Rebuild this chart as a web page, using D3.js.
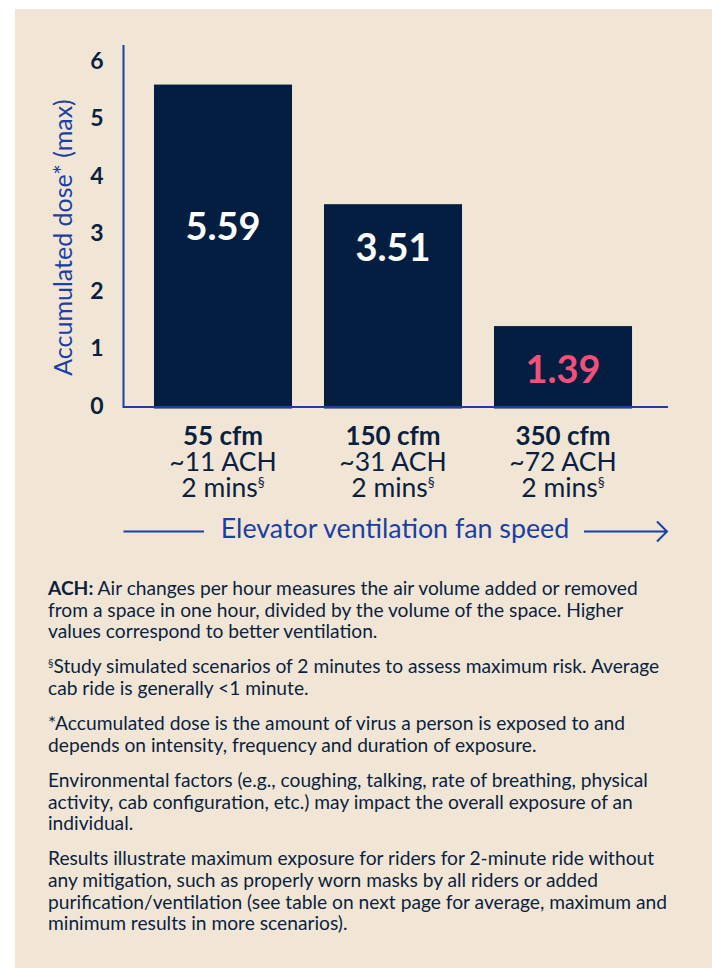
<!DOCTYPE html>
<html>
<head>
<meta charset="utf-8">
<script src="https://cdn.jsdelivr.net/npm/d3@7"></script>
<style>
  body { margin: 0; background: #fff; }
  svg { display: block; font-family: Lato, "Noto Sans", sans-serif; }
</style>
</head>
<body>
<svg id="chart" width="712" height="968"></svg>
<script>
// chart values
const categories = ["55 cfm", "150 cfm", "350 cfm"];
const achLabels = ["~11 ACH", "~31 ACH", "~72 ACH"];
const durationLabels = ["2 mins", "2 mins", "2 mins"];
const doseValues = [5.59, 3.51, 1.39];
const yTicks = [0, 1, 2, 3, 4, 5, 6];

// footnote paragraphs (lines as laid out in the source)
const notes = [
  [["ACH:", "Air changes per hour measures the air volume added or removed"],
   "from a space in one hour, divided by the volume of the space. Higher",
   "values correspond to better ventilation."],
  [["§", "Study simulated scenarios of 2 minutes to assess maximum risk. Average"],
   "cab ride is generally <1 minute."],
  ["*Accumulated dose is the amount of virus a person is exposed to and",
   "depends on intensity, frequency and duration of exposure."],
  ["Environmental factors (e.g., coughing, talking, rate of breathing, physical",
   "activity, cab configuration, etc.) may impact the overall exposure of an",
   "individual."],
  ["Results illustrate maximum exposure for riders for 2-minute ride without",
   "any mitigation, such as properly worn masks by all riders or added",
   "purification/ventilation (see table on next page for average, maximum and",
   "minimum results in more scenarios)."]
];

const navy = "#041e42";
const ink = "#0b1f40";
const blue = "#1c3fa3";
const pink = "#f0507a";

const svg = d3.select("#chart");

// background panel
svg.append("rect")
  .attr("x", 15).attr("y", 9)
  .attr("width", 712 - 15).attr("height", 968 - 9)
  .attr("fill", "#f1e6d6");

const plot = { left: 123.5, right: 668, top: 45, bottom: 407 };

const y = d3.scaleLinear().domain([0, 6]).range([406, 61]);
const x = d3.scaleBand()
  .domain(categories)
  .range([121, 665])
  .paddingInner(0.188)
  .paddingOuter(0.194);

// bars
svg.append("g")
  .selectAll("rect")
  .data(doseValues)
  .join("rect")
  .attr("x", (d, i) => x(categories[i]))
  .attr("y", d => y(d))
  .attr("width", x.bandwidth())
  .attr("height", d => plot.bottom + 1.5 - y(d))
  .attr("fill", navy);

// axis lines
svg.append("path")
  .attr("d", `M${plot.left},${plot.top}V${plot.bottom}H${plot.right}`)
  .attr("fill", "none")
  .attr("stroke", blue)
  .attr("stroke-width", 2);

// y ticks
const yAxis = svg.append("g")
  .attr("transform", `translate(${plot.left},0)`)
  .call(d3.axisLeft(y).tickValues(yTicks).tickSize(0).tickPadding(20).tickFormat(d3.format("d")));
yAxis.select(".domain").remove();
yAxis.selectAll("text")
  .attr("fill", ink)
  .attr("font-size", 23)
  .attr("font-weight", 700)
  .attr("font-family", "Lato, sans-serif");

// y title
svg.append("text")
  .attr("transform", `translate(72,${(y(0) + y(6)) / 2 + 4}) rotate(-90)`)
  .attr("text-anchor", "middle")
  .attr("fill", blue)
  .attr("font-size", 25)
  .text("Accumulated dose* (max)");

// value labels inside bars
const minVal = d3.min(doseValues);
svg.append("g")
  .selectAll("text")
  .data(doseValues)
  .join("text")
  .attr("x", (d, i) => x(categories[i]) + x.bandwidth() / 2)
  .attr("y", d => Math.max(y(d) + 44, y(3.1)) + 12.5)
  .attr("text-anchor", "middle")
  .attr("font-size", 38)
  .attr("font-weight", 700)
  .attr("fill", d => d === minVal ? pink : "#ffffff")
  .text(d => d3.format(".2f")(d));

// category labels
const cat = svg.append("g")
  .selectAll("g")
  .data(categories)
  .join("g")
  .attr("transform", d => `translate(${x(d) + x.bandwidth() / 2},0)`)
  .attr("text-anchor", "middle")
  .attr("fill", ink);

cat.append("text")
  .attr("y", 445)
  .attr("font-size", 26)
  .attr("font-weight", 700)
  .text(d => d);

cat.append("text")
  .attr("y", 471)
  .attr("font-size", 26.5)
  .text((d, i) => achLabels[i]);

const dur = cat.append("text")
  .attr("y", 497)
  .attr("font-size", 26.5);
dur.append("tspan").text((d, i) => durationLabels[i]);
dur.append("tspan")
  .attr("font-size", 14)
  .attr("dy", -10)
  .text("§");

// x title with arrow
const xTitleY = 531.5;
svg.append("line")
  .attr("x1", plot.left).attr("x2", 204)
  .attr("y1", xTitleY).attr("y2", xTitleY)
  .attr("stroke", blue).attr("stroke-width", 2);
svg.append("path")
  .attr("d", `M584,${xTitleY}H667M657,${xTitleY - 10}L667,${xTitleY}L657,${xTitleY + 10}`)
  .attr("fill", "none")
  .attr("stroke", blue).attr("stroke-width", 2);
svg.append("text")
  .attr("x", 395)
  .attr("y", 538)
  .attr("text-anchor", "middle")
  .attr("fill", blue)
  .attr("font-size", 26.8)
  .text("Elevator ventilation fan speed");

// footnotes
const noteG = svg.append("g")
  .attr("fill", ink)
  .attr("font-size", 19.2);
const lineH = 21.7;
const paraGap = 13.3;
let baseY = 595;
notes.forEach(para => {
  para.forEach(line => {
    const t = noteG.append("text").attr("x", 48).attr("y", baseY);
    if (Array.isArray(line)) {
      if (line[0] === "§") {
        t.append("tspan").attr("font-size", 11).attr("dy", -6).text("§");
        t.append("tspan").attr("dy", 6).text(line[1]);
      } else {
        t.append("tspan").attr("font-weight", 700).text(line[0]);
        t.append("tspan").text(" " + line[1]);
      }
    } else {
      t.text(line);
    }
    baseY += lineH;
  });
  baseY += paraGap;
});
</script>
</body>
</html>
